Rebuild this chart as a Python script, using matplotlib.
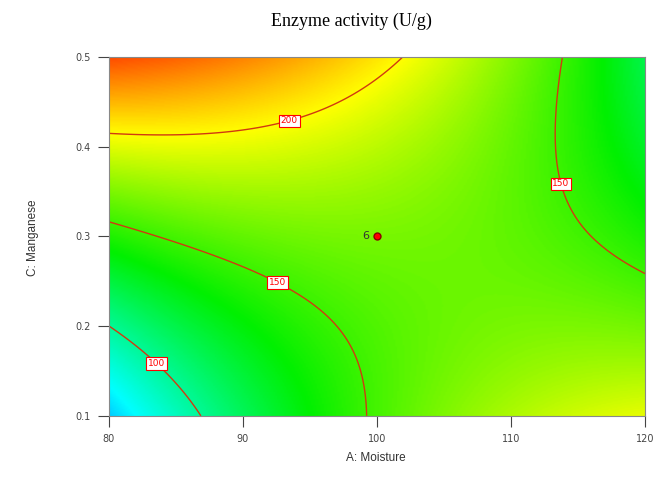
import numpy as np
import matplotlib
matplotlib.use("Agg")
import matplotlib.pyplot as plt
from matplotlib.colors import LinearSegmentedColormap

# points (A: Moisture, C: Manganese)
lvl200_A = [80, 84.3, 89.3, 93.4, 96.7, 99.2, 101.9]
lvl200_C = [0.415, 0.412, 0.419, 0.433, 0.445, 0.467, 0.499]
lvl150_A = [80, 86.8, 92.7, 96.2, 98.2, 98.9, 99.2]
lvl150_C = [0.315, 0.281, 0.252, 0.207, 0.166, 0.133, 0.1]
lvl150r_A = [113.9, 113.3, 113.8, 115.1, 117.3, 120]
lvl150r_C = [0.5, 0.415, 0.359, 0.315, 0.281, 0.257]
lvl100_A = [80, 83.8, 85.3, 86.8]
lvl100_C = [0.198, 0.162, 0.133, 0.1]

levels = [100, 150, 200]
label_pos = [(93.4, 0.433), (92.7, 0.252), (83.8, 0.162), (113.8, 0.359)]
center_A, center_C, center_n = 100, 0.3, 6

xticks = [80, 90, 100, 110, 120]
yticks = [0.1, 0.2, 0.3, 0.4, 0.5]

# fit a quadratic response surface (coded units) through the read contour points
A = np.array(lvl200_A + lvl150_A + lvl150r_A + lvl100_A)
C = np.array(lvl200_C + lvl150_C + lvl150r_C + lvl100_C)
Z = np.array([200] * len(lvl200_A) + [150] * len(lvl150_A)
             + [150] * len(lvl150r_A) + [100] * len(lvl100_A), dtype=float)


def terms(a, c):
    x1 = (a - 100) / 20
    x3 = (c - 0.3) / 0.2
    return np.stack([np.ones_like(x1), x1, x3, x1 * x1, x3 * x3, x1 * x3], axis=-1)


coef, *_ = np.linalg.lstsq(terms(A, C), Z, rcond=None)

ga, gc = np.meshgrid(np.linspace(80, 120, 300), np.linspace(0.1, 0.5, 300))
gz = terms(ga, gc) @ coef

vmin, vmax = 20, 270
nodes = [(20, "#0000ff"), (75, "#00ffff"), (135, "#00f000"),
         (200, "#ffff00"), (270, "#ff0000")]
cmap = LinearSegmentedColormap.from_list(
    "de", [((v - vmin) / (vmax - vmin), c) for v, c in nodes])

fig = plt.figure(figsize=(6.59, 4.95), dpi=100)
ax = fig.add_axes([0.165, 0.160, 0.814, 0.725])

ax.imshow(gz, extent=[80, 120, 0.1, 0.5], origin="lower", aspect="auto",
          cmap=cmap, vmin=vmin, vmax=vmax, interpolation="bilinear")
cs = ax.contour(ga, gc, gz, levels=levels, colors="#d03a10", linewidths=1.0)
labels = ax.clabel(cs, fmt="%d", fontsize=6.5, colors="red", inline=False,
                   manual=label_pos)
for t in labels:
    t.set_rotation(0)
    t.set_bbox(dict(facecolor="white", edgecolor="red", pad=1.2, linewidth=0.8))

ax.plot(center_A, center_C, marker="o", markersize=5, color="red",
        markeredgecolor="#8b0000")
ax.text(center_A - 0.6, center_C, str(center_n), ha="right", va="center",
        fontsize=8, color="#333333")

ax.set_xlim(80, 120)
ax.set_ylim(0.1, 0.5)
ax.set_xticks(xticks)
ax.set_yticks(yticks)
ax.set_xticklabels([str(v) for v in xticks])
ax.set_yticklabels([str(v) for v in yticks])
ax.tick_params(direction="out", length=8, width=0.8, colors="#444444",
               labelsize=7, pad=5)
for s in ax.spines.values():
    s.set_color("#888888")
    s.set_linewidth(0.8)

fig.text(0.534, 0.956, "Enzyme activity (U/g)", ha="center", va="center",
         fontsize=13, family="Liberation Serif")
fig.text(0.571, 0.075, "A: Moisture", ha="center", va="center", fontsize=8.5,
         color="#333333", family="Liberation Sans")
fig.text(0.05, 0.52, "C: Manganese", ha="center", va="center", fontsize=8.5,
         color="#333333", family="Liberation Sans", rotation=90)

fig.savefig("out.png", dpi=100)
